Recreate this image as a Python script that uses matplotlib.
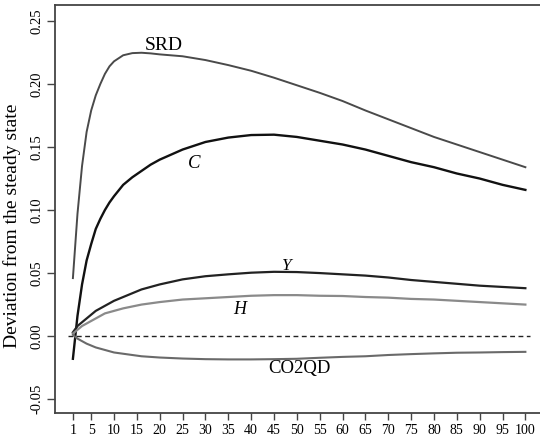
import matplotlib
matplotlib.use("Agg")
import matplotlib.pyplot as plt

plt.rcParams['font.family'] = ['Liberation Serif', 'DejaVu Serif']

periods = [1, 2, 3, 4, 5, 6, 7, 8, 9, 10, 12, 14, 16, 18, 20,
           25, 30, 35, 40, 45, 50, 55, 60, 65, 70, 75, 80, 85, 90, 95, 100]

srd = [0.046, 0.097, 0.135, 0.162, 0.179, 0.191, 0.200, 0.208, 0.214, 0.218,
       0.2228, 0.2245, 0.2248, 0.2243, 0.2235,
       0.222, 0.219, 0.215, 0.2105, 0.205, 0.199, 0.193, 0.1865, 0.179,
       0.172, 0.165, 0.158, 0.152, 0.146, 0.140, 0.134]

c_vals = [-0.018, 0.016, 0.041, 0.060, 0.073, 0.085, 0.093, 0.100, 0.106, 0.111,
          0.120, 0.126, 0.131, 0.136, 0.140,
          0.148, 0.154, 0.1575, 0.1595, 0.1598, 0.158, 0.155, 0.152, 0.148,
          0.143, 0.138, 0.134, 0.129, 0.125, 0.120, 0.116]

y_vals = [0.003, 0.008, 0.011, 0.014, 0.017, 0.020, 0.022, 0.024, 0.026, 0.028,
          0.031, 0.034, 0.037, 0.039, 0.041,
          0.045, 0.0475, 0.049, 0.0503, 0.051, 0.0508, 0.050, 0.049, 0.048,
          0.0465, 0.0445, 0.043, 0.0415, 0.040, 0.039, 0.038]

h_vals = [0.002, 0.005, 0.008, 0.010, 0.012, 0.014, 0.016, 0.018, 0.019, 0.020,
          0.022, 0.0235, 0.025, 0.026, 0.027,
          0.029, 0.030, 0.031, 0.032, 0.0325, 0.0325, 0.032, 0.0318, 0.031,
          0.0305, 0.0295, 0.029, 0.028, 0.027, 0.026, 0.025]

co2qd = [0.001, -0.002, -0.004, -0.006, -0.0075, -0.009, -0.010, -0.011, -0.012, -0.013,
         -0.014, -0.015, -0.016, -0.0165, -0.017,
         -0.0178, -0.0183, -0.0185, -0.0185, -0.0183, -0.018, -0.0172, -0.0165, -0.016,
         -0.015, -0.0143, -0.0137, -0.0132, -0.013, -0.0127, -0.0125]

xticks = [1] + list(range(5, 101, 5))
yticks = [-0.05, 0.00, 0.05, 0.10, 0.15, 0.20, 0.25]

fig = plt.figure(figsize=(5.4, 4.4), dpi=100)
ax = fig.add_axes([0.102, 0.0614, 0.898, 0.9273])

ax.hlines(0, 0, 101, colors='#222222', linestyles=(0, (3.5, 2.5)), linewidth=1.0)

ax.plot(periods, srd, color='#4a4a4a', lw=1.4)
ax.plot(periods, c_vals, color='#111111', lw=1.7)
ax.plot(periods, y_vals, color='#222222', lw=1.6)
ax.plot(periods, h_vals, color='#8a8a8a', lw=1.6)
ax.plot(periods, co2qd, color='#6a6a6a', lw=1.5)

ax.text(20.8, 0.2309, 'SRD', fontsize=14, ha='center', va='center')
ax.text(27.6, 0.137, 'C', fontsize=13.5, style='italic', ha='center', va='center')
ax.text(47.9, 0.0556, 'Y', fontsize=12.5, style='italic', ha='center', va='center')
ax.text(37.4, 0.0214, 'H', fontsize=13, style='italic', ha='center', va='center')
ax.text(50.6, -0.0254, 'CO2QD', fontsize=13.5, ha='center', va='center')

ax.set_xlim(-2.9, 103.2)
ax.set_ylim(-0.061, 0.2627)
ax.set_xticks(xticks)
ax.set_xticklabels([str(t) for t in xticks], fontsize=10)
ax.set_yticks(yticks)
ax.set_yticklabels(['%.2f' % t for t in yticks], fontsize=10.5, rotation=90, va='center')
ax.tick_params(axis='y', length=6, width=1, color='#444444', pad=2)
ax.tick_params(axis='x', length=5, width=1, color='#444444', pad=3)
ax.set_ylabel('Deviation from the steady state', fontsize=14)
ax.yaxis.set_label_coords(-0.071, 0.458)

ax.spines['right'].set_visible(False)
for side in ['left', 'bottom', 'top']:
    ax.spines[side].set_color('#444444')
    ax.spines[side].set_linewidth(1.3)

fig.savefig('out.png', dpi=100)
